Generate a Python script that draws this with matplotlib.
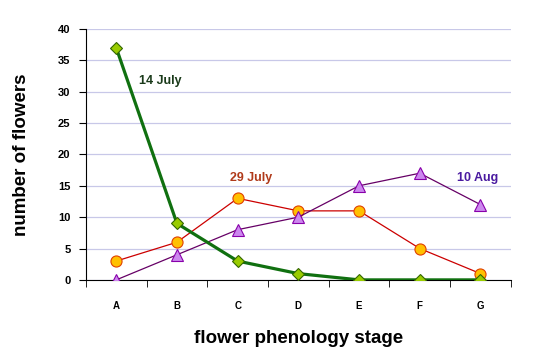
import numpy as np
import matplotlib.pyplot as plt

# data
stages = ['A', 'B', 'C', 'D', 'E', 'F', 'G']
july14 = [37, 9, 3, 1, 0, 0, 0]
july29 = [3, 6, 13, 11, 11, 5, 1]
aug10 = [0, 4, 8, 10, 15, 17, 12]
yticks = [0, 5, 10, 15, 20, 25, 30, 35, 40]

plt.rcParams['font.family'] = ['Liberation Sans', 'DejaVu Sans']

fig = plt.figure(figsize=(5.4, 3.57), dpi=100)
ax = fig.add_axes([0.159, 0.216, 0.787, 0.703])

x = np.arange(len(stages))

ax.plot(x, july29, color='#CC0000', linewidth=0.9, marker='o', markersize=8,
        markerfacecolor='#FFC000', markeredgecolor='#E04000', markeredgewidth=0.8, zorder=3)
ax.plot(x, aug10, color='#660066', linewidth=0.9, marker='^', markersize=9,
        markerfacecolor='#CC88EE', markeredgecolor='#8800AA', markeredgewidth=0.8, zorder=3)
ax.plot(x, july14, color='#107010', linewidth=2.3, marker='D', markersize=6,
        markerfacecolor='#99CC00', markeredgecolor='#336600', markeredgewidth=0.8, zorder=4)

ax.text(0.38, 31.3, '14 July', color='#1A3A1A', fontsize=9, fontweight='bold')
ax.text(1.87, 15.8, '29 July', color='#B03A1A', fontsize=9, fontweight='bold')
ax.text(5.61, 15.8, '10 Aug', color='#4A1AA0', fontsize=9, fontweight='bold')

ax.set_xlim(-0.5, 6.5)
ax.set_ylim(0, 40)
ax.set_yticks(yticks)
ax.set_xticks(x)
ax.set_xticklabels(stages, fontsize=7, fontweight='bold')
ax.set_xticks(np.arange(-0.5, 7, 1), minor=True)
ax.tick_params(axis='x', which='major', length=0, pad=15)
ax.tick_params(axis='x', which='minor', length=5, direction='out', color='black')
ax.tick_params(axis='y', length=5, direction='out', labelsize=8, pad=6)
for lab in ax.get_yticklabels():
    lab.set_fontweight('bold')

ax.grid(axis='y', color='#C8C8E8', linewidth=0.9)
ax.set_axisbelow(True)
for s in ['top', 'right']:
    ax.spines[s].set_visible(False)
ax.spines['left'].set_color('black')
ax.spines['bottom'].set_color('black')

ax.set_ylabel('number of flowers', fontsize=13.5, fontweight='bold', labelpad=20)
ax.set_xlabel('flower phenology stage', fontsize=13.5, fontweight='bold', labelpad=14)

fig.savefig('out.png', dpi=100)
